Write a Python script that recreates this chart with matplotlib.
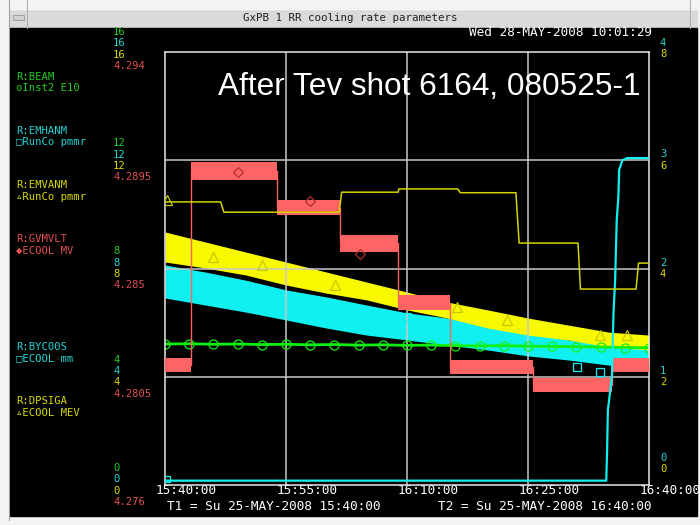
import numpy as np
import matplotlib.pyplot as plt
from matplotlib.patches import Rectangle

# time axis in minutes after 15:40:00
time_ticks = [0, 15, 30, 45, 60]
time_labels = ["15:40:00", "15:55:00", "16:10:00", "16:25:00", "16:40:00"]

# scale labels at each horizontal grid line, bottom to top
green_scale = ["0", "4", "8", "12", "16"]
cyan_scale = ["0", "4", "8", "12", "16"]
yellow_scale = ["0", "4", "8", "12", "16"]
red_scale = ["4.276", "4.2805", "4.285", "4.2895", "4.294"]
cyan_right_scale = ["0", "1", "2", "3", "4"]
yellow_right_scale = ["0", "2", "4", "6", "8"]

# R:BEAM  Inst2 E10  (left, 0-16)
beam_t = [0, 3, 6, 9, 12, 15, 18, 21, 24, 27, 30, 33, 36, 39, 42, 45, 48, 51, 54, 57, 60]
beam_v = [5.21, 5.22, 5.20, 5.21, 5.19, 5.20, 5.18, 5.19, 5.17, 5.18, 5.16,
          5.17, 5.15, 5.14, 5.15, 5.13, 5.12, 5.11, 5.10, 5.08, 5.07]

# R:EMHANM  RunCo pmmr  (left, 0-16), spread of the noisy trace
emh_t = [0, 5, 10, 15, 20, 25, 30, 35, 40, 45, 50, 55, 60]
emh_lo = [6.91, 6.65, 6.39, 6.10, 5.80, 5.54, 5.36, 5.17, 4.99, 4.77, 4.62, 4.43, 4.43]
emh_hi = [8.13, 7.87, 7.57, 7.21, 6.95, 6.65, 6.36, 6.17, 5.91, 5.65, 5.36, 5.17, 5.17]
emh_mark_t = [9.1, 30.0, 51.1, 53.9]
emh_mark_v = [7.32, 6.21, 4.36, 4.18]

# R:EMVANM  RunCo pmmr  (left, 0-16)
emv_t = [0, 5, 10, 15, 20, 25, 30, 35, 40, 45, 50, 55, 60]
emv_lo = [8.24, 8.02, 7.76, 7.39, 7.09, 6.84, 6.47, 6.17, 5.80, 5.54, 5.36, 5.10, 4.99]
emv_hi = [9.35, 8.98, 8.61, 8.24, 7.87, 7.50, 7.13, 6.76, 6.47, 6.17, 5.91, 5.65, 5.54]
emv_mark_t = [6.0, 12.0, 21.1, 36.2, 42.4, 53.9, 57.3]
emv_mark_v = [8.42, 8.13, 7.39, 6.58, 6.10, 5.54, 5.54]

# R:GVMVLT  ECOOL MV  (4.276-4.294), stepped levels
gvm_edges = [0, 3.2, 13.9, 21.7, 28.9, 35.3, 45.6, 55.4, 60]
gvm_lo = [4.28070, 4.28868, 4.28722, 4.28569, 4.28327, 4.28061, 4.27987, 4.28070]
gvm_hi = [4.28128, 4.28943, 4.28785, 4.28639, 4.28390, 4.28120, 4.28045, 4.28128]
gvm_mark_t = [9.1, 18.0, 24.2]
gvm_mark_v = [4.2890, 4.2878, 4.2856]

# R:BYC00S  ECOOL mm  (right, 0-4)
byc_t = [0, 54.7, 54.8, 54.9, 55.4, 55.6, 55.8, 56.0, 56.2, 56.3, 56.7, 57.3, 60]
byc_v = [0.04, 0.04, 0.30, 0.69, 1.00, 1.59, 1.89, 2.45, 2.66, 2.91, 3.00, 3.02, 3.02]

# R:DPSIGA  ECOOL MEV  (right, 0-8)
dps_t = [0, 6.9, 7.3, 21.6, 21.9, 28.9, 29.0, 36.3, 36.6, 43.5, 43.9, 51.2, 51.5, 58.4, 58.7, 60]
dps_v = [5.23, 5.23, 5.04, 5.04, 5.41, 5.41, 5.47, 5.47, 5.40, 5.40, 4.47, 4.47, 3.62, 3.62, 4.10, 4.10]

legend_names = ["R:BEAM", "R:EMHANM", "R:EMVANM", "R:GVMVLT", "R:BYC00S", "R:DPSIGA"]
legend_units = ["oInst2 E10", "\u25a1RunCo pmmr", "\u25b5RunCo pmmr",
                "\u25c6ECOOL MV", "\u25a1ECOOL mm", "\u25b5ECOOL MEV"]

GREEN = "#10f010"
CYAN = "#10f0f0"
YELLOW = "#f8f800"
RED = "#ff6464"
T_GREEN = "#22cc22"
T_CYAN = "#22d4d4"
T_YELLOW = "#d8d800"
T_RED = "#e05050"
GRID = "#c8c8c8"
MONO = ["DejaVu Sans Mono", "DejaVu Sans"]
FS = 9.2      # single line texts
FS_S = 7.6    # stacked labels

W, H = 700, 525
PL, PR, PT, PB = 165, 649, 52, 485

fig = plt.figure(figsize=(7, 5.25), dpi=100)

# window frame, drawn in pixel coordinates
bg = fig.add_axes([0, 0, 1, 1])
bg.set_xlim(0, W)
bg.set_ylim(H, 0)
bg.axis("off")
bg.set_zorder(0)
bg.add_patch(Rectangle((0, 0), W, H, color="#f4f4f4"))
bg.add_patch(Rectangle((10, 9), 687, 19, color="#dadada"))
bg.plot([10, 697], [9, 9], color="#fafafa", lw=1)
bg.plot([27, 27], [0, 28], color="#b0b0b0", lw=0.8)
bg.plot([690, 690], [0, 28], color="#b0b0b0", lw=0.8)
bg.add_patch(Rectangle((13, 15), 11, 5, facecolor="#d0d0d0", edgecolor="#999999", lw=0.6))
bg.add_patch(Rectangle((10, 28), 687, 488, color="black"))
bg.plot([9, 9], [0, 520], color="#a0a0a0", lw=0.8)
bg.text(350, 18, "GxPB 1 RR cooling rate parameters", color="#202020",
        ha="center", va="center", family=MONO, fontsize=7.8)
bg.text(652, 33, "Wed 28-MAY-2008 10:01:29", color="white",
        ha="right", va="center", family=MONO, fontsize=FS)

# stacked scale labels beside each grid line
left_sets = [(green_scale, T_GREEN, -17), (cyan_scale, T_CYAN, -5.7),
             (yellow_scale, T_YELLOW, 5.6), (red_scale, T_RED, 16.9)]
for i in range(5):
    gy = PB - i * (PB - PT) / 4
    top = -3 if i == 4 else 0
    for labels, col, dy in left_sets:
        bg.text(113, gy + dy + top, labels[i], color=col, ha="left", va="center",
                family=MONO, fontsize=FS_S)
    shift = -21 if i == 0 else top
    bg.text(660, gy - 6 + shift, cyan_right_scale[i], color=T_CYAN, ha="left",
            va="center", family=MONO, fontsize=FS_S)
    bg.text(660, gy + 5.3 + shift, yellow_right_scale[i], color=T_YELLOW, ha="left",
            va="center", family=MONO, fontsize=FS_S)

# trace names on the left
name_cols = [T_GREEN, T_CYAN, T_YELLOW, T_RED, T_CYAN, T_YELLOW]
name_y = [77, 131, 186, 240, 347, 402]
for name, unit, col, y in zip(legend_names, legend_units, name_cols, name_y):
    bg.text(16, y - 0.5, name, color=col, ha="left", va="center", family=MONO, fontsize=FS_S)
    bg.text(16, y + 11, unit, color=col, ha="left", va="center", family=MONO, fontsize=FS_S)

# time labels
for t, lab in zip(time_ticks, time_labels):
    px = PL + t / 60 * (PR - PL)
    bg.text(px - 9, 491, lab, color="white", ha="left", va="center",
            family=MONO, fontsize=FS)
bg.text(167, 507, "T1 = Su 25-MAY-2008 15:40:00", color="white", ha="left",
        va="center", family=MONO, fontsize=FS)
bg.text(438, 507, "T2 = Su 25-MAY-2008 16:40:00", color="white", ha="left",
        va="center", family=MONO, fontsize=FS)

# plot area
ax = fig.add_axes([PL / W, 1 - PB / H, (PR - PL) / W, (PB - PT) / H])
ax.set_zorder(1)
ax.set_facecolor("black")
ax.set_xlim(0, 60)
ax.set_ylim(0, 16)
ax.set_xticks([15, 30, 45])
ax.set_yticks([4, 8, 12])
ax.grid(True, color=GRID, lw=1.1)
ax.tick_params(length=0, labelbottom=False, labelleft=False)
for s in ax.spines.values():
    s.set_color("#e8e8e8")
    s.set_linewidth(1.1)

ax.plot(beam_t, beam_v, color=GREEN, lw=2.0, marker="o", ms=6.5,
        mfc="none", mec=GREEN, mew=0.9)
ax.fill_between(emh_t, emh_lo, emh_hi, color=CYAN, lw=0)
ax.plot(emh_mark_t, emh_mark_v, ls="none", marker="s", ms=6, mfc="none",
        mec=CYAN, mew=0.9)
ax.fill_between(emv_t, emv_lo, emv_hi, color=YELLOW, lw=0)
ax.plot(emv_mark_t, emv_mark_v, ls="none", marker="^", ms=7, mfc="none",
        mec="#c8c800", mew=0.9)

ax_red = ax.twinx()
ax_red.set_zorder(2)
ax_red.patch.set_visible(False)
ax_red.set_ylim(4.276, 4.294)
edges = np.repeat(gvm_edges, 2)[1:-1]
ax_red.fill_between(edges, np.repeat(gvm_lo, 2), np.repeat(gvm_hi, 2), color=RED, lw=0)
mid = [(a + b) / 2 for a, b in zip(gvm_lo, gvm_hi)]
ax_red.step(gvm_edges[:-1] + [60], mid + [mid[-1]], where="post", color=RED, lw=1)
ax_red.plot(gvm_mark_t, gvm_mark_v, ls="none", marker="D", ms=5, mfc="none",
            mec="#b03030", mew=0.9)

ax_byc = ax.twinx()
ax_byc.set_zorder(3)
ax_byc.patch.set_visible(False)
ax_byc.set_ylim(0, 4)
ax_byc.plot(byc_t, byc_v, color=CYAN, lw=1.6)
ax_byc.plot([0.25], [0.06], ls="none", marker="s", ms=5, mfc="none", mec=CYAN, mew=0.9)

ax_dps = ax.twinx()
ax_dps.set_zorder(4)
ax_dps.patch.set_visible(False)
ax_dps.set_ylim(0, 8)
ax_dps.plot(dps_t, dps_v, color="#d4d400", lw=1.1)
ax_dps.plot([0.3], [5.27], ls="none", marker="^", ms=7, mfc="none", mec="#c8c800", mew=0.9)

for a in (ax_red, ax_byc, ax_dps):
    a.set_yticks([])
    a.tick_params(length=0, labelright=False)
    for s in a.spines.values():
        s.set_visible(False)

ax_dps.text(0.11, 0.919, "After Tev shot 6164, 080525-1", color="white",
            transform=ax_dps.transAxes, ha="left", va="center",
            family="Liberation Sans", fontsize=22.7)

fig.savefig("out.png", dpi=100)
